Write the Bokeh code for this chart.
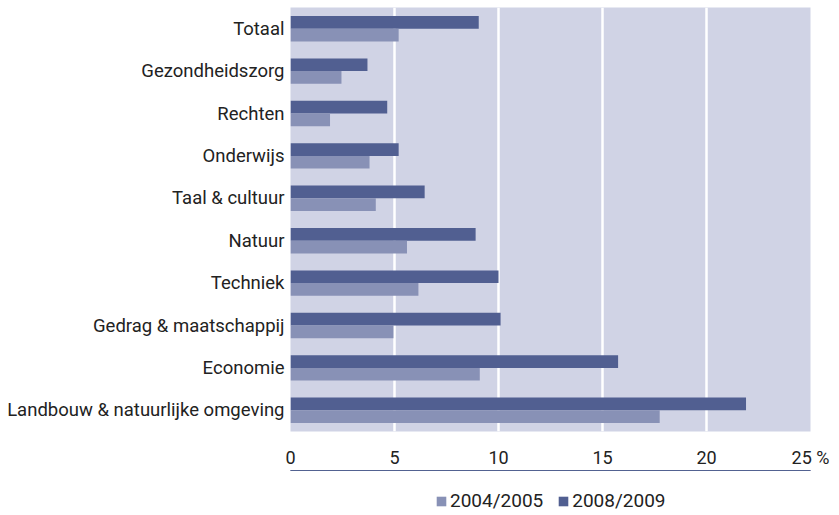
from bokeh.plotting import figure
from bokeh.layouts import column
from bokeh.models import ColumnDataSource, FixedTicker, Legend, LegendItem, Range1d
from bokeh.transform import dodge
from bokeh.embed import file_html
from bokeh.resources import INLINE

categories = ["Totaal", "Gezondheidszorg", "Rechten", "Onderwijs", "Taal & cultuur",
              "Natuur", "Techniek", "Gedrag & maatschappij", "Economie",
              "Landbouw & natuurlijke omgeving"]
v2004 = [5.2, 2.45, 1.9, 3.8, 4.1, 5.6, 6.15, 4.95, 9.1, 17.75]
v2008 = [9.05, 3.7, 4.65, 5.2, 6.45, 8.9, 10.0, 10.1, 15.75, 21.9]
xticks = [0, 5, 10, 15, 20, 25]
series_names = ["2004/2005", "2008/2009"]

FONT = "Roboto"
TXT = "#222222"
C_LIGHT = "#8891b6"
C_DARK = "#515f91"

src = ColumnDataSource(dict(cat=categories, a=v2004, b=v2008))

p = figure(y_range=list(reversed(categories)), x_range=(0, 25),
           width=839, height=475, frame_width=520, frame_height=424,
           min_border_left=290, min_border_right=29, min_border_top=7, min_border_bottom=0,
           output_backend="svg", toolbar_location=None)

p.background_fill_color = "#d0d3e5"
p.border_fill_color = "white"
p.outline_line_color = None

p.hbar(y=dodge("cat", 0.15, range=p.y_range), right="b", left=0, height=0.3,
       source=src, fill_color=C_DARK, line_color=None)
p.hbar(y=dodge("cat", -0.15, range=p.y_range), right="a", left=0, height=0.3,
       source=src, fill_color=C_LIGHT, line_color=None)

p.xaxis.ticker = FixedTicker(ticks=xticks)
p.xaxis.major_label_overrides = {25: "25 %"}
p.xgrid.ticker = FixedTicker(ticks=[5, 10, 15, 20])
p.xgrid.grid_line_color = "white"
p.xgrid.grid_line_width = 2.5
p.ygrid.grid_line_color = None

for ax in (p.xaxis[0], p.yaxis[0]):
    ax.axis_line_color = None
    ax.major_tick_line_color = None
    ax.minor_tick_line_color = None
    ax.major_label_text_font = FONT
    ax.major_label_text_color = TXT
p.xaxis.major_label_text_font_size = "18px"
p.xaxis.major_label_standoff = 9
p.yaxis.major_label_text_font_size = "18.5px"
p.yaxis.major_label_standoff = 0

# legend strip (its frame is aligned with the main plot's frame by the column layout)
q = figure(width=839, height=40, x_range=Range1d(0, 1), y_range=Range1d(0, 1),
           min_border=0, output_backend="svg", toolbar_location=None)
q.axis.visible = False
q.grid.visible = False
q.outline_line_color = None
q.background_fill_color = "white"
# legend-swatch renderers: same data, falling outside this strip's 0..1 range
lr = q.hbar(y="a", right="a", left=0, height=0.3, source=src,
            fill_color=C_LIGHT, line_color=None)
dr = q.hbar(y="b", right="b", left=0, height=0.3, source=src,
            fill_color=C_DARK, line_color=None)
legend = Legend(items=[LegendItem(label=series_names[0], renderers=[lr]),
                       LegendItem(label=series_names[1], renderers=[dr])],
                orientation="horizontal", location=(145, -2),
                label_text_font=FONT, label_text_font_size="19px", label_text_color=TXT,
                glyph_width=12, glyph_height=12, label_standoff=3, spacing=14,
                border_line_color=None, background_fill_alpha=0, margin=0, padding=1)
q.add_layout(legend, "center")

open("out.html", "w").write(file_html(column(p, q, spacing=0), INLINE))
